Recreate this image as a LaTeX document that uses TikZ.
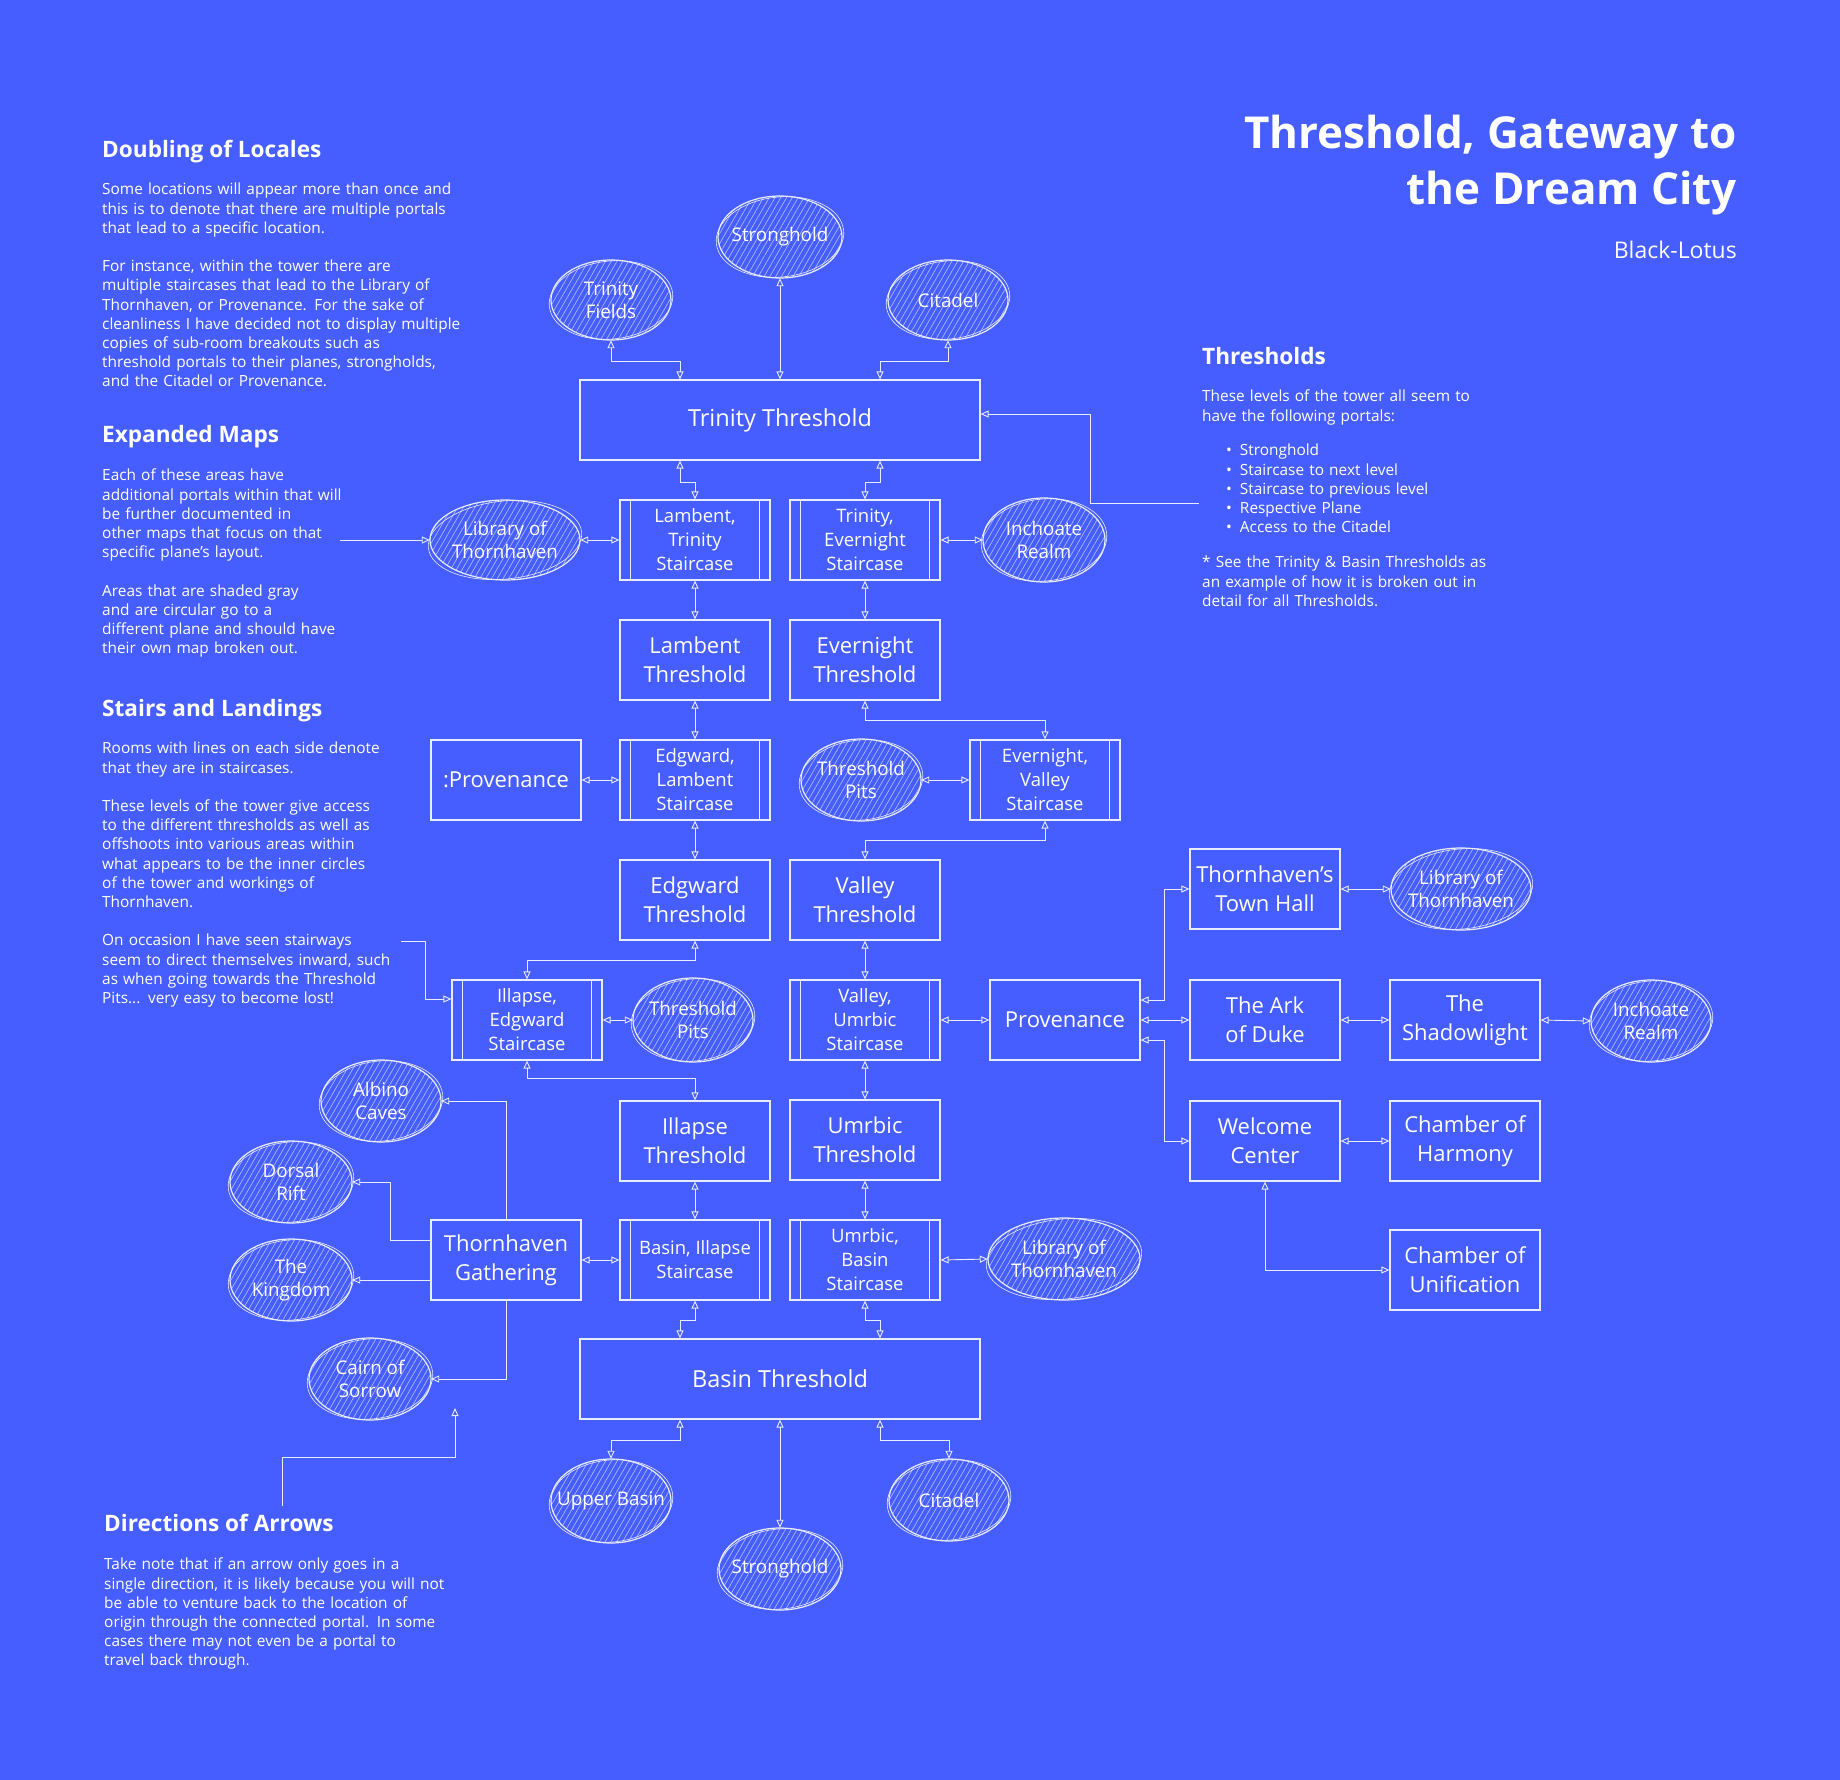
\documentclass[tikz,border=0pt]{standalone}
\usepackage{fontspec}
\setmainfont{Open Sans}
\usetikzlibrary{arrows.meta,patterns.meta,calc}
\definecolor{bg}{RGB}{70,94,255}
\colorlet{lc}{white!88!bg}
\colorlet{hc}{white!55!bg}
\newcommand\fBox{\fontsize{22}{29}\selectfont}
\newcommand\fBig{\fontsize{23.5}{29}\selectfont}
\newcommand\fStair{\fontsize{18.5}{24}\selectfont}
\newcommand\fBlob{\fontsize{18.8}{23}\selectfont}
\newcommand\fBody{\fontsize{15.4}{19.2}\selectfont}
\newcommand\fHead{\fontsize{22.6}{26}\selectfont\bfseries}
\newcommand\fTitle{\fontsize{44}{56}\selectfont\bfseries}
\newcommand\blob[6]{%
  \path[hatchfill] (#2,#3) ellipse [x radius=#4pt, y radius=#5pt];
  \draw[lc, line width=1.2pt] (#2,#3) ellipse [x radius=#4pt, y radius=#5pt];
  \draw[lc, line width=0.6pt, rotate around={6:(#2,#3)}] (#2,#3) ellipse [x radius=#4pt+2pt, y radius=#5pt-1pt];
  \node[blobtxt, minimum width=2*#4pt, minimum height=2*#5pt] (#1) at (#2,#3) {#6};}
\begin{document}
\begin{tikzpicture}[x=1pt,y=-1pt,
  >={Triangle[open,length=8pt,width=7pt]},
  box/.style={draw=lc, line width=1.2pt, rectangle, minimum width=150pt, minimum height=80pt, align=center, text=white, font=\fBox, inner sep=1pt},
  bigbox/.style={box, minimum width=400pt, font=\fBig},
  stair/.style={box, font=\fStair},
  blobtxt/.style={rectangle, inner sep=0pt, align=center, text=white, font=\fBlob},
  hatchfill/.style={pattern={Lines[angle=60,distance=5pt,line width=0.7pt]}, pattern color=hc},
  con/.style={draw=lc, line width=0.9pt, <->},
  one/.style={draw=lc, line width=0.9pt, ->},
  body/.style={font=\fBody, text=white, align=left, inner sep=0pt, text width=470pt, anchor=north west},
  head/.style={font=\fHead, text=white, anchor=base west, inner sep=0pt},
  title/.style={font=\fTitle, text=white, anchor=base east, inner sep=0pt}]
\useasboundingbox (0,0) rectangle (1840,1780);
\fill[bg] (0,0) rectangle (1840,1780);

% ---------- boxes ----------
\node[bigbox] (tt) at (780,420) {Trinity Threshold};
\node[stair] (lts) at (695,540) {Lambent,\\Trinity\\Staircase};
\node[stair] (tes) at (865,540) {Trinity,\\Evernight\\Staircase};
\node[box] (lt) at (695,660) {Lambent\\Threshold};
\node[box] (et) at (865,660) {Evernight\\Threshold};
\node[box] (provL) at (506,780) {:Provenance};
\node[stair] (els) at (695,780) {Edgward,\\Lambent\\Staircase};
\node[stair] (evs) at (1045,780) {Evernight,\\Valley\\Staircase};
\node[box] (edt) at (695,900) {Edgward\\Threshold};
\node[box] (vt) at (865,900) {Valley\\Threshold};
\node[stair] (ies) at (527,1020) {Illapse,\\Edgward\\Staircase};
\node[stair] (vus) at (865,1020) {Valley,\\Umrbic\\Staircase};
\node[box] (prov) at (1065,1020) {Provenance};
\node[box] (tth) at (1265,889) {Thornhaven’s\\Town Hall};
\node[box] (ark) at (1265,1020) {The Ark\\of Duke};
\node[box] (shl) at (1465,1020) {The\\Shadowlight};
\node[box] (wc) at (1265,1141) {Welcome\\Center};
\node[box] (coh) at (1465,1141) {Chamber of\\Harmony};
\node[box] (cou) at (1465,1270) {Chamber of\\Unification};
\node[box] (it) at (695,1141) {Illapse\\Threshold};
\node[box] (ut) at (865,1140) {Umrbic\\Threshold};
\node[box] (tg) at (506,1260) {Thornhaven\\Gathering};
\node[stair] (bis) at (695,1260) {Basin, Illapse\\Staircase};
\node[stair] (ubs) at (865,1260) {Umrbic,\\Basin\\Staircase};
\node[bigbox] (bt) at (780,1379) {Basin Threshold};

\foreach \n in {lts,tes,els,evs,ies,vus,bis,ubs}{
  \draw[lc, line width=1pt] ([xshift=11pt]\n.north west) -- ([xshift=11pt]\n.south west);
  \draw[lc, line width=1pt] ([xshift=-11pt]\n.north east) -- ([xshift=-11pt]\n.south east);
}

% ---------- planes ----------
\blob{tf}{611}{300}{60}{40}{Trinity\\Fields}
\blob{sh1}{780}{237}{62}{41}{Stronghold}
\blob{cit1}{948}{300}{60}{40}{Citadel}
\blob{lib1}{505}{540}{75}{40}{Library of\\Thornhaven}
\blob{inc1}{1044}{540}{61}{42}{Inchoate\\Realm}
\blob{tp1}{861}{780}{60}{41}{Threshold\\Pits}
\blob{tp2}{693}{1020}{60}{42}{Threshold\\Pits}
\blob{lib2}{1461}{889}{70}{41}{Library of\\Thornhaven}
\blob{inc2}{1651}{1021}{60}{41}{Inchoate\\Realm}
\blob{lib3}{1064}{1259}{76}{41}{Library of\\Thornhaven}
\blob{alb}{381}{1101}{60}{41}{Albino\\Caves}
\blob{dor}{291}{1182}{61}{41}{Dorsal\\Rift}
\blob{kin}{291}{1280}{61}{41}{The\\Kingdom}
\blob{cai}{370}{1379}{61}{41}{Cairn of\\Sorrow}
\blob{ub}{611}{1501}{60}{42}{Upper Basin}
\blob{sh2}{780}{1569}{61}{41}{Stronghold}
\blob{cit2}{949}{1500}{60}{41}{Citadel}

% ---------- connectors ----------
\draw[con] (tf.south) -- ++(0,21) -| ([xshift=-100pt]tt.north);
\draw[con] (sh1.south) -- (tt.north);
\draw[con] (cit1.south) -- ++(0,21) -| ([xshift=100pt]tt.north);
\draw[con] ([xshift=-100pt]tt.south) -- ++(0,22) -| (lts.north);
\draw[con] ([xshift=100pt]tt.south) -- ++(0,22) -| (tes.north);
\draw[con] (lib1.east) -- (lts.west);
\draw[con] (tes.east) -- (inc1.west);
\draw[con] (lts.south) -- (lt.north);
\draw[con] (tes.south) -- (et.north);
\draw[con] (lt.south) -- (els.north);
\draw[con] (et.south) -- ++(0,20) -| (evs.north);
\draw[con] (provL.east) -- (els.west);
\draw[con] (tp1.east) -- (evs.west);
\draw[con] (els.south) -- (edt.north);
\draw[con] (evs.south) -- ++(0,20) -| (vt.north);
\draw[con] (edt.south) -- ++(0,20) -| (ies.north);
\draw[con] (vt.south) -- (vus.north);
\draw[con] (ies.east) -- (tp2.west);
\draw[con] (vus.east) -- (prov.west);
\draw[con] (ies.south) -- ++(0,18) -| (it.north);
\draw[con] (vus.south) -- (ut.north);
\draw[con] (it.south) -- (bis.north);
\draw[con] (ut.south) -- (ubs.north);
\draw[con] (tg.east) -- (bis.west);
\draw[con] (ubs.east) -- (lib3.west);
\draw[con] (bis.south) -- ++(0,20) -| ([xshift=-100pt]bt.north);
\draw[con] (ubs.south) -- ++(0,20) -| ([xshift=100pt]bt.north);
\draw[con] ([xshift=-100pt]bt.south) -- ++(0,21) -| (ub.north);
\draw[con] (bt.south) -- (sh2.north);
\draw[con] ([xshift=100pt]bt.south) -- ++(0,21) -| (cit2.north);

\draw[one] (tg.north) |- (alb.east);
\draw[one] ([yshift=20pt]tg.west) -- ++(-40,0) |- (dor.east);
\draw[one] (kin.east -| tg.west) -- (kin.east);
\draw[one] (tg.south) |- (cai.east);

\draw[con] ([yshift=20pt]prov.east) -- ++(24,0) |- (tth.west);
\draw[con] (prov.east) -- (ark.west);
\draw[con] ([yshift=-20pt]prov.east) -- ++(24,0) |- (wc.west);
\draw[con] (tth.east) -- (lib2.west);
\draw[con] (ark.east) -- (shl.west);
\draw[con] (shl.east) -- (inc2.west);
\draw[con] (wc.east) -- (coh.west);
\draw[con] (wc.south) |- (cou.west);

% note pointers
\coordinate (a1) at (340,540);
\draw[one] (a1) -- (lib1.west);
\coordinate (a2) at (401,941);
\draw[one] (a2) -- ++(24,0) |- ([yshift=21pt]ies.west);
\coordinate (a3) at (282,1506);
\coordinate (a3e) at (455,1408);
\draw[one] (a3) -- ++(0,-49) -| (a3e);
\coordinate (a4) at (1199,503);
\draw[one] (a4) -- ++(-109,0) |- ([yshift=6pt]tt.east);

% ---------- texts ----------
\node[title] (t1) at (1737,148) {Threshold, Gateway to};
\node[title] (t2) at (1737,204) {the Dream City};
\node[font=\fontsize{23}{26}\selectfont, text=white, anchor=base east, inner sep=0pt] (t3) at (1737,258) {Black-Lotus};

\node[head] (h1) at (102,157) {Doubling of Locales};
\node[body] (p1) at (102,183) {Some locations will appear more than once and\\this is to denote that there are multiple portals\\that lead to a specific location.\\[19.2pt]For instance, within the tower there are\\multiple staircases that lead to the Library of\\Thornhaven, or Provenance. For the sake of\\cleanliness I have decided not to display multiple\\copies of sub-room breakouts such as\\threshold portals to their planes, strongholds,\\and the Citadel or Provenance.};

\node[head] (h2) at (102,442) {Expanded Maps};
\node[body] (p2) at (102,469) {Each of these areas have\\additional portals within that will\\be further documented in\\other maps that focus on that\\specific plane’s layout.\\[19.2pt]Areas that are shaded gray\\and are circular go to a\\different plane and should have\\their own map broken out.};

\node[head] (h3) at (102,716) {Stairs and Landings};
\node[body] (p3) at (102,742) {Rooms with lines on each side denote\\that they are in staircases.\\[19.2pt]These levels of the tower give access\\to the different thresholds as well as\\offshoots into various areas within\\what appears to be the inner circles\\of the tower and workings of\\Thornhaven.\\[19.2pt]On occasion I have seen stairways\\seem to direct themselves inward, such\\as when going towards the Threshold\\Pits... very easy to become lost!};

\node[head] (h4) at (104,1531) {Directions of Arrows};
\node[body] (p4) at (104,1558) {Take note that if an arrow only goes in a\\single direction, it is likely because you will not\\be able to venture back to the location of\\origin through the connected portal. In some\\cases there may not even be a portal to\\travel back through.};

\node[head] (h5) at (1202,364) {Thresholds};
\node[body] (p5) at (1202,390) {These levels of the tower all seem to\\have the following portals:};
\node[body] (p6) at (1226,444) {•\hspace{8pt}Stronghold\\•\hspace{8pt}Staircase to next level\\•\hspace{8pt}Staircase to previous level\\•\hspace{8pt}Respective Plane\\•\hspace{8pt}Access to the Citadel};
\node[body] (p7) at (1202,556) {* See the Trinity \& Basin Thresholds as\\an example of how it is broken out in\\detail for all Thresholds.};
\end{tikzpicture}
\end{document}
